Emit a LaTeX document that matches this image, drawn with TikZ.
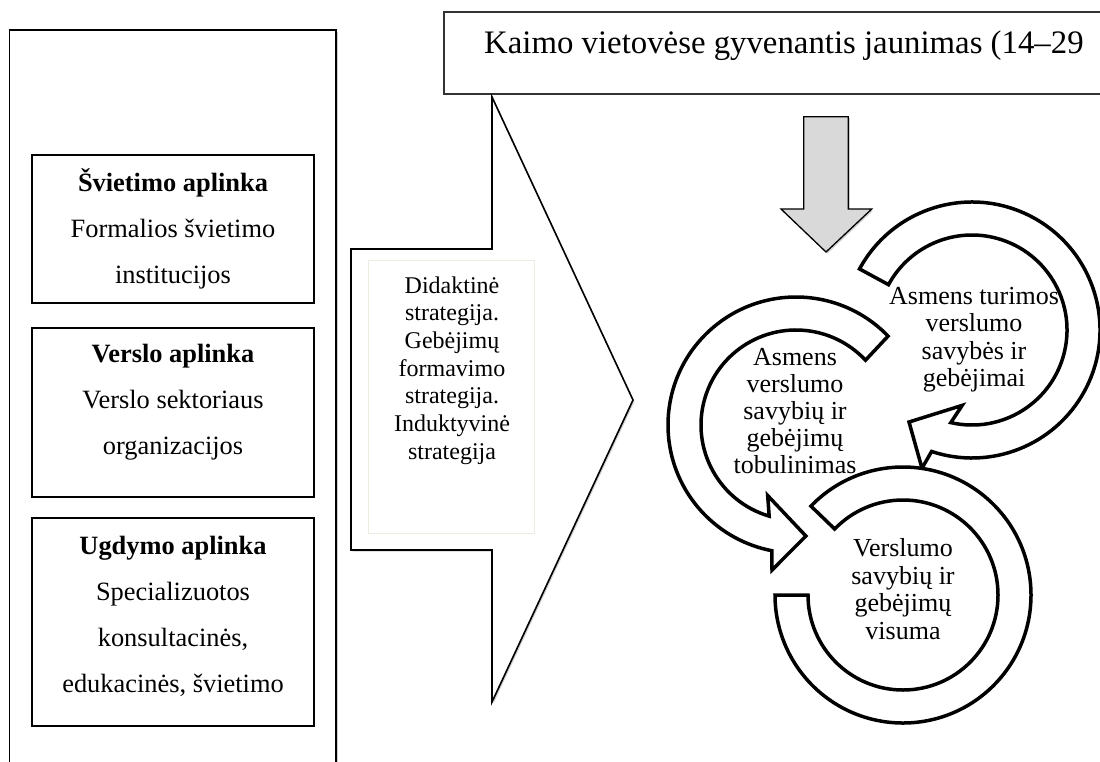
\documentclass[tikz,border=0pt]{standalone}
\usepackage{fontspec}
\setmainfont{Liberation Serif}
\usetikzlibrary{shadows}
\definecolor{cream}{RGB}{238,236,225}
\definecolor{arrgray}{RGB}{217,217,217}
\begin{document}
\begin{tikzpicture}[x=1pt,y=-1pt,
  lbl/.style={font=\fontsize{26.4}{30}\selectfont, inner sep=0pt, anchor=base},
  lblb/.style={lbl, font=\fontsize{26.4}{30}\selectfont\bfseries},
  strat/.style={font=\fontsize{24}{27}\selectfont, inner sep=0pt, anchor=base},
  rtext/.style={font=\fontsize{26}{28}\selectfont, inner sep=0pt, anchor=base},
  envbox/.style={draw=black, line width=1.2pt, fill=white, inner sep=0pt},
  ring/.style={draw=black, fill=white, line width=3.5pt, miter limit=10},
  softshadow/.style={drop shadow={shadow xshift=1.5pt, shadow yshift=-1.5pt, fill=black, opacity=0.18}},
]
\clip (0,0) rectangle (1100,761);
\fill[white] (0,0) rectangle (1100,761);

% left column
\node[envbox, line width=1.6pt, minimum width=326.5pt, minimum height=740pt, softshadow] (outer) at (172.75,400) {};
\node[envbox, minimum width=282pt, minimum height=148pt] (b1) at (173,229) {};
\node[envbox, minimum width=282pt, minimum height=169pt] (b2) at (173,412.5) {};
\node[envbox, minimum width=282pt, minimum height=208pt] (b3) at (173,622) {};

\node[lblb] (t1a) at (173,191.5) {Švietimo aplinka};
\node[lbl]  (t1b) at (173,237.5) {Formalios švietimo};
\node[lbl]  (t1c) at (173,283.5) {institucijos};
\node[lblb] (t2a) at (173,362.5) {Verslo aplinka};
\node[lbl]  (t2b) at (173,408.5) {Verslo sektoriaus};
\node[lbl]  (t2c) at (173,454.5) {organizacijos};
\node[lblb] (t3a) at (173,554) {Ugdymo aplinka};
\node[lbl]  (t3b) at (173,600) {Specializuotos};
\node[lbl]  (t3c) at (173,646) {konsultacinės,};
\node[lbl]  (t3d) at (173,692) {edukacinės, švietimo};

% top box
\node[draw=black!80, line width=1.3pt, fill=white, minimum width=676pt, minimum height=82pt, inner sep=0pt] (top) at (782,53) {};
\node[font=\fontsize{32.8}{36}\selectfont, inner sep=0pt, anchor=base west] (toptext) at (484,53) {Kaimo vietovėse gyvenantis jaunimas (14–29};

% big arrow
\draw[line width=1.6pt, fill=white, softshadow, line join=miter]
  (351,249) -- (492,249) -- (492,97) -- (633,400) -- (492,702) -- (492,550) -- (351,550) -- cycle;
\node[draw=cream, line width=1pt, fill=white, minimum width=166pt, minimum height=273pt, inner sep=0pt] (sbox) at (451,396.5) {};
\node[strat] (s1) at (452,293) {Didaktinė};
\node[strat] (s2) at (452,320.7) {strategija.};
\node[strat] (s3) at (452,348.4) {Gebėjimų};
\node[strat] (s4) at (452,376.1) {formavimo};
\node[strat] (s5) at (452,403.8) {strategija.};
\node[strat] (s6) at (452,431.5) {Induktyvinė};
\node[strat] (s7) at (452,459.2) {strategija};

% gray down arrow
\draw[line width=1.3pt, fill=arrgray, softshadow, line join=miter]
  (803.7,116.7) -- (848.3,116.7) -- (848.3,209) -- (871.7,209) -- (826,252) -- (781,209) -- (803.7,209) -- cycle;

% ring A (upper right)
\begin{scope}[shift={(972,330)}]
\draw[ring] (208.5:128) arc[start angle=208.5, end angle=468.4, radius=128]
  -- (469.9:147) -- (484.4:111.5) -- (457.4:76) -- (462.9:95)
  arc[start angle=462.9, end angle=208.5, radius=95] -- cycle;
\end{scope}
% ring B (left)
\begin{scope}[shift={(796,425)}]
\draw[ring] (-44:128) arc[start angle=-44, end angle=-259.1, radius=128]
  -- (-260.6:147) -- (-275.1:111.5) -- (-248.1:76) -- (-253.6:95)
  arc[start angle=-253.6, end angle=-43, radius=95] -- cycle;
\end{scope}
% ring C (bottom)
\begin{scope}[shift={(903,595)}]
\draw[ring] (-136:128) arc[start angle=-136, end angle=180, radius=128]
  -- (180:95) arc[start angle=180, end angle=-136, radius=95] -- cycle;
\end{scope}

% ring texts
\node[rtext] (ra1) at (974,304) {Asmens turimos};
\node[rtext] (ra2) at (974,331.6) {verslumo};
\node[rtext] (ra3) at (974,359.2) {savybės ir};
\node[rtext] (ra4) at (974,386.8) {gebėjimai};

\node[rtext] (rb1) at (795,365) {Asmens};
\node[rtext] (rb2) at (795,392) {verslumo};
\node[rtext] (rb3) at (795,419) {savybių ir};
\node[rtext] (rb4) at (795,446) {gebėjimų};
\node[rtext] (rb5) at (795,473) {tobulinimas};

\node[rtext] (rc1) at (903,556.5) {Verslumo};
\node[rtext] (rc2) at (903,584) {savybių ir};
\node[rtext] (rc3) at (903,611.5) {gebėjimų};
\node[rtext] (rc4) at (903,639) {visuma};
\end{tikzpicture}
\end{document}
